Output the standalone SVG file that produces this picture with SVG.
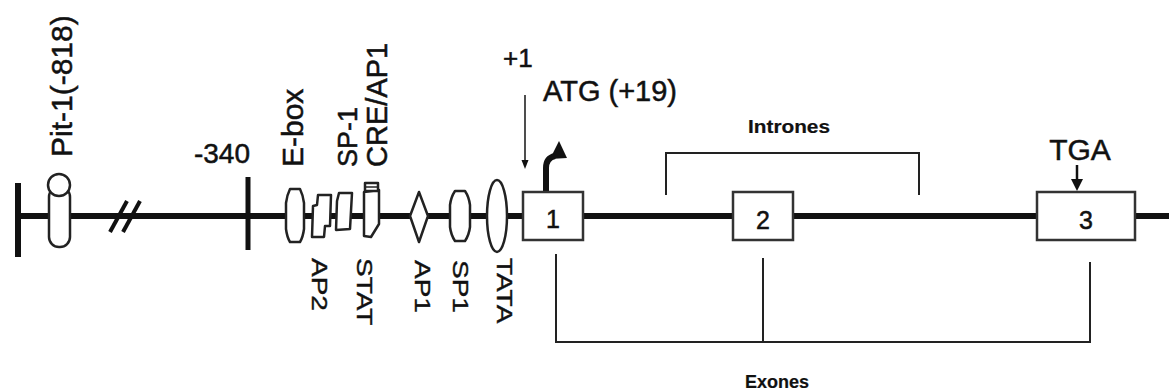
<svg xmlns="http://www.w3.org/2000/svg" width="1169" height="391" viewBox="0 0 1169 391">
<style>
text{font-family:"Liberation Sans",Arial,sans-serif;fill:#111;stroke:#111;stroke-width:0.5}
.el{fill:#fff;stroke:#222;stroke-width:2.5;stroke-linejoin:round}
.box{fill:#fff;stroke:#333;stroke-width:2.5}
.thin{fill:none;stroke:#222;stroke-width:2}
.lbl{font-size:30px}
.blab{font-size:28px}
.num{font-size:25px;text-anchor:middle}
.small{font-size:18px;font-weight:bold;stroke-width:0.2}
</style>
<rect width="1169" height="391" fill="#fff"/>
<g id="connectors">
  <line x1="18" y1="216" x2="1169" y2="216" stroke="#111" stroke-width="6"/>
  <line x1="18" y1="183" x2="18" y2="257" stroke="#111" stroke-width="6"/>
  <line x1="248" y1="177" x2="248" y2="250" stroke="#111" stroke-width="5"/>
  <line x1="110" y1="232" x2="127" y2="201" stroke="#111" stroke-width="4"/>
  <line x1="123" y1="232" x2="140" y2="201" stroke="#111" stroke-width="4"/>
  <line x1="525" y1="95" x2="525" y2="162" stroke="#222" stroke-width="1.6"/>
  <polygon points="521.5,160 528.5,160 525,169" fill="#111"/>
  <path d="M546,191 L546,168 Q546,158 555,156" fill="none" stroke="#111" stroke-width="6"/>
  <polygon points="559,141 550,159 567,158" fill="#111"/>
  <line x1="1077" y1="165" x2="1077" y2="182" stroke="#111" stroke-width="2.5"/>
  <polygon points="1071,179 1083,179 1077,191" fill="#111"/>
  <polyline class="thin" points="666,195 666,153 919,153 919,195"/>
  <polyline class="thin" points="556,254 556,342 1090,342 1090,262"/>
  <line class="thin" x1="763" y1="258" x2="763" y2="342"/>
</g>
<g id="pit1">
  <rect class="el" x="49" y="187" width="21" height="60" rx="10"/>
  <circle class="el" cx="59" cy="185" r="11"/>
  <text class="lbl" transform="translate(72,157) rotate(-90)">Pit-1(-818)</text>
</g>
<g id="m340">
  <text class="lbl" x="250" y="163" text-anchor="end" style="font-size:28px">-340</text>
</g>
<g id="ebox">
  <path class="el" d="M290,189 L300,189 Q303,195 304,203 L304,229 Q303,237 300,242 L290,242 Q287,237 286,229 L286,203 Q287,195 290,189 Z"/>
  <text class="lbl" transform="translate(303,167) rotate(-90)">E-box</text>
</g>
<g id="ap2">
  <path class="el" d="M318,195 L331,195 L330,226 L325,226 L324,237 L312,237 L313,206 L317,205 Z"/>
  <text class="blab" transform="translate(312,258) rotate(90) scale(1,0.8)">AP2</text>
</g>
<g id="sp1a">
  <path class="el" d="M339,193 L352,193 L350,229 L336,230 L337,201 Z"/>
  <text class="lbl" style="font-size:27px" transform="translate(357,167) rotate(-90)">SP-1</text>
</g>
<g id="creap1">
  <path class="el" d="M364,192 L379,190 L379,224 L371,237 L364,236 Z"/>
  <rect class="el" x="365" y="183" width="13" height="8" stroke-width="2"/>
  <line x1="366" y1="187" x2="377" y2="187" stroke="#222" stroke-width="1.5"/>
  <text class="lbl" style="font-size:29px" transform="translate(387,167) rotate(-90)">CRE/AP1</text>
  <text class="blab" transform="translate(357,258) rotate(90) scale(1,0.8)">STAT</text>
</g>
<g id="ap1">
  <polygon class="el" points="419,192 428,216 419,242 410,216"/>
  <text class="blab" transform="translate(415,260) rotate(90) scale(1,0.8)">AP1</text>
</g>
<g id="sp1b">
  <path class="el" d="M455,191 L465,191 Q469,197 470,205 L470,227 Q469,235 465,241 L455,241 Q451,235 450,227 L450,205 Q451,197 455,191 Z"/>
  <text class="blab" transform="translate(453,260) rotate(90) scale(1,0.8)">SP1</text>
</g>
<g id="tata">
  <ellipse class="el" cx="497" cy="216" rx="10" ry="36"/>
  <text class="blab" transform="translate(497,258) rotate(90) scale(1,0.8)">TATA</text>
</g>
<g id="plus1">
  <text x="503" y="67" style="font-size:26px">+1</text>
</g>
<g id="atg">
  <text x="543" y="101" style="font-size:29px">ATG (+19)</text>
</g>
<g id="exon1">
  <rect class="box" x="523" y="192" width="60" height="48"/>
  <text class="num" x="553" y="228">1</text>
</g>
<g id="exon2">
  <rect class="box" x="733" y="192" width="60" height="48"/>
  <text class="num" x="763" y="229">2</text>
</g>
<g id="exon3">
  <rect class="box" x="1037" y="192" width="98" height="48"/>
  <text class="num" x="1086" y="229">3</text>
</g>
<g id="tga">
  <text x="1080" y="160" text-anchor="middle" style="font-size:30px">TGA</text>
</g>
<g id="intrones">
  <text class="small" x="748" y="133" textLength="82" lengthAdjust="spacingAndGlyphs">Intrones</text>
</g>
<g id="exones">
  <text class="small" x="745" y="388" textLength="64" lengthAdjust="spacingAndGlyphs">Exones</text>
</g>
</svg>
